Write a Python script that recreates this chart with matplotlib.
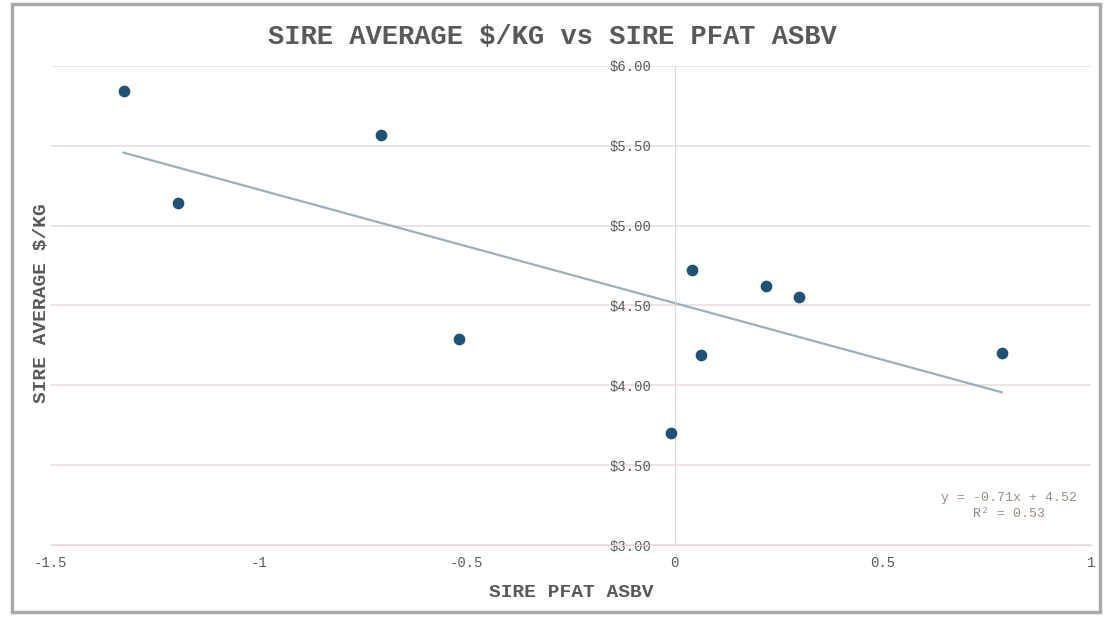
import numpy as np
import matplotlib
matplotlib.use("Agg")
import matplotlib.pyplot as plt
from matplotlib.patches import Rectangle

pfat = [-1.325, -1.195, -0.707, -0.519, 0.041, 0.063, -0.01, 0.219, 0.298, 0.786]
price = [5.84, 5.14, 5.57, 4.29, 4.72, 4.19, 3.70, 4.62, 4.55, 4.20]
xticks = [-1.5, -1, -0.5, 0, 0.5, 1]
xticklabels = ["-1.5", "-1", "-0.5", "0", "0.5", "1"]
yticks = [3.0, 3.5, 4.0, 4.5, 5.0, 5.5, 6.0]
yticklabels = ["$3.00", "$3.50", "$4.00", "$4.50", "$5.00", "$5.50", "$6.00"]

font = "Liberation Mono"
grey = "#595959"

fig = plt.figure(figsize=(11.04, 6.19), dpi=100)
ax = fig.add_axes([0.046, 0.1195, 0.942, 0.774])
ax.set_xlim(-1.5, 1)
ax.set_ylim(3, 6)

ax.grid(axis="y", color="#eadede", lw=1.2)
ax.set_axisbelow(True)
for s in ["top", "right"]:
    ax.spines[s].set_visible(False)
ax.spines["left"].set_position(("data", 0))
ax.spines["left"].set_color("#e0d6d6")
ax.spines["bottom"].set_color("#e0d6d6")

x = np.array(pfat)
y = np.array(price)
m, b = np.polyfit(x, y, 1)
r2 = np.corrcoef(x, y)[0, 1] ** 2
xl = np.array([x.min(), x.max()])
ax.plot(xl, m * xl + b, color="#9aafbd", lw=1.6, zorder=2)
ax.scatter(x, y, s=55, color="#1f5275", zorder=3)

ax.set_xticks(xticks)
ax.set_xticklabels(xticklabels)
ax.set_yticks(yticks)
ax.set_yticklabels(yticklabels)
ax.tick_params(length=0, labelsize=10, labelcolor=grey)
ax.tick_params(axis="x", pad=8)
ax.tick_params(axis="y", pad=17)
for lab in ax.get_xticklabels() + ax.get_yticklabels():
    lab.set_fontfamily(font)

ax.set_xlabel("SIRE PFAT ASBV", fontfamily=font, fontweight="bold",
              fontsize=14, color=grey, labelpad=10)
fig.text(0.038, 0.51, "SIRE AVERAGE $/KG", rotation=90, ha="center", va="center",
         fontfamily=font, fontweight="bold", fontsize=14, color=grey)

fig.text(0.5, 0.94, "SIRE AVERAGE $/KG vs SIRE PFAT ASBV", ha="center", va="center",
         fontfamily=font, fontweight="bold", fontsize=19.5, color=grey)

eq = f"y = {m:.2f}x + {b:.2f}\nR² = {r2:.2f}"
ax.text(0.921, 0.081, eq, transform=ax.transAxes, ha="center", va="center",
        fontfamily=font, fontsize=9.5, color="#9a8a80", linespacing=1.5)

fig.patches.append(Rectangle((0.011, 0.012), 0.985, 0.982, transform=fig.transFigure,
                             fill=False, edgecolor="#a8a8a8", lw=2.5))

fig.savefig("out.png", dpi=100)
